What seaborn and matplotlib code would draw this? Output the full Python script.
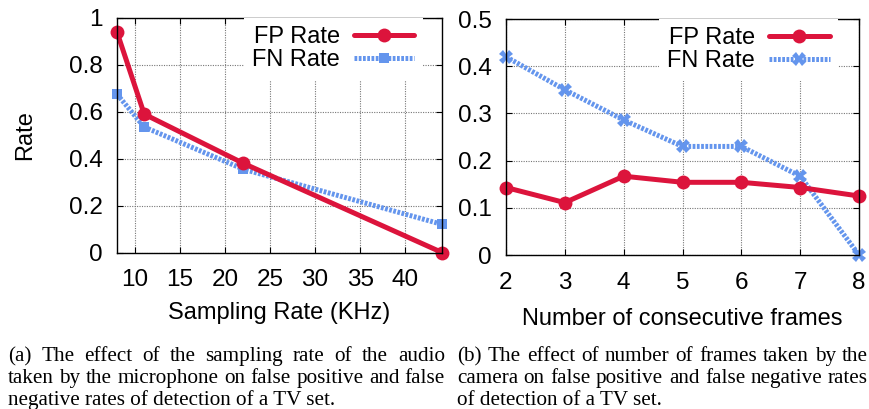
import matplotlib
matplotlib.use("Agg")
import matplotlib.pyplot as plt
import seaborn as sns
import pandas as pd

# Data — panel (a)
sampling_khz = [8, 11.025, 22.05, 44.1]
fp_a = [0.94, 0.59, 0.38, 0.0]
fn_a = [0.675, 0.535, 0.355, 0.12]

# Data — panel (b)
frames = [2, 3, 4, 5, 6, 7, 8]
fp_b = [0.143, 0.111, 0.167, 0.154, 0.154, 0.143, 0.125]
fn_b = [0.42, 0.35, 0.286, 0.23, 0.23, 0.167, 0.0]

xticks_a = [10, 15, 20, 25, 30, 35, 40]
yticks_a = [0, 0.2, 0.4, 0.6, 0.8, 1]
ylabels_a = ["0", "0.2", "0.4", "0.6", "0.8", "1"]
xticks_b = [2, 3, 4, 5, 6, 7, 8]
yticks_b = [0, 0.1, 0.2, 0.3, 0.4, 0.5]
ylabels_b = ["0", "0.1", "0.2", "0.3", "0.4", "0.5"]

caption_a = ["(a) The effect of the sampling rate of the audio",
             "taken by the microphone on false positive and false",
             "negative rates of detection of a TV set."]
caption_b = ["(b) The effect of number of frames taken by the",
             "camera on false positive and false negative rates",
             "of detection of a TV set."]

sns.set_theme(style="white")
plt.rcParams['font.family'] = ['Liberation Sans', 'DejaVu Sans']

RED = "#DC143C"
BLUE = "#6495ED"
W, H = 870, 409

fig = plt.figure(figsize=(8.7, 4.09), dpi=100)
ax1 = fig.add_axes([117 / W, 1 - 252.5 / H, 325 / W, 234.5 / H])
ax2 = fig.add_axes([506 / W, 1 - 255 / H, 353 / W, 236 / H])


def draw(ax, x, fp, fn, fn_marker, fn_ms, legend_x):
    dfp = pd.DataFrame({"x": x, "y": fp})
    dfn = pd.DataFrame({"x": x, "y": fn})
    sns.lineplot(data=dfn, x="x", y="y", ax=ax, color=BLUE, lw=3.6,
                 linestyle=(0, (0.55, 0.3)), marker=fn_marker, markersize=fn_ms,
                 markeredgewidth=0, label="FN Rate", zorder=3, clip_on=False)
    sns.lineplot(data=dfp, x="x", y="y", ax=ax, color=RED, lw=3.6,
                 marker="o", markersize=10, markeredgewidth=0,
                 label="FP Rate", zorder=4, clip_on=False)
    ax.grid(True, color="#777777", linestyle=(0, (1, 1.2)), lw=0.8)
    for s in ax.spines.values():
        s.set_color("black")
        s.set_linewidth(1.0)
        s.set_zorder(5)
    ax.tick_params(direction="in", length=4, width=0.8, labelsize=17.5,
                   colors="black", top=True, right=True, bottom=True, left=True)
    ax.tick_params(axis="x", pad=12)
    ax.tick_params(axis="y", pad=10)
    h, l = ax.get_legend_handles_labels()
    leg = ax.legend(h[::-1], l[::-1], loc="upper right",
                    bbox_to_anchor=(legend_x, 1.0), fontsize=17,
                    frameon=True, fancybox=False, framealpha=1,
                    edgecolor="white", markerfirst=False, handlelength=2.55,
                    borderpad=0.35, labelspacing=0.05, handletextpad=0.6,
                    borderaxespad=0.0)
    leg.get_frame().set_linewidth(0)
    for t in leg.get_texts():
        t.set_color("black")


draw(ax1, sampling_khz, fp_a, fn_a, "s", 7, 0.94)
ax1.set_xlim(8, 44.1)
ax1.set_ylim(0, 1)
ax1.set_xticks(xticks_a)
ax1.set_yticks(yticks_a)
ax1.set_yticklabels(ylabels_a)
ax1.set_xlabel("Sampling Rate (KHz)", fontsize=17, labelpad=8, color="black")
ax1.set_ylabel("Rate", fontsize=17, labelpad=24, color="black")

draw(ax2, frames, fp_b, fn_b, "X", 10, 0.94)
ax2.set_xlim(2, 8)
ax2.set_ylim(0, 0.5)
ax2.set_xticks(xticks_b)
ax2.set_yticks(yticks_b)
ax2.set_yticklabels(ylabels_b)
ax2.set_xlabel("Number of consecutive frames", fontsize=17, labelpad=10,
               color="black")
ax2.set_ylabel("")

# Justified captions
renderer = fig.canvas.get_renderer()
CAP_FS = 15.2


def justified(lines, x0, x1, baselines):
    for i, (line, yb) in enumerate(zip(lines, baselines)):
        words = line.split(" ")
        last = i == len(lines) - 1
        if last:
            fig.text(x0 / W, 1 - yb / H, line, fontsize=CAP_FS,
                     family="Liberation Serif", va="baseline", ha="left",
                     color="black")
            continue
        texts, widths = [], []
        for w in words:
            t = fig.text(0, 1 - yb / H, w, fontsize=CAP_FS,
                         family="Liberation Serif", va="baseline", ha="left",
                         color="black")
            texts.append(t)
            widths.append(t.get_window_extent(renderer).width)
        gap = (x1 - x0 - sum(widths)) / (len(words) - 1)
        x = x0
        for t, wdt in zip(texts, widths):
            t.set_x(x / W)
            x += wdt + gap


baselines = [361, 383, 405]
justified(caption_a, 8, 445, baselines)
justified(caption_b, 457, 868, baselines)

fig.savefig("out.png", dpi=100)
